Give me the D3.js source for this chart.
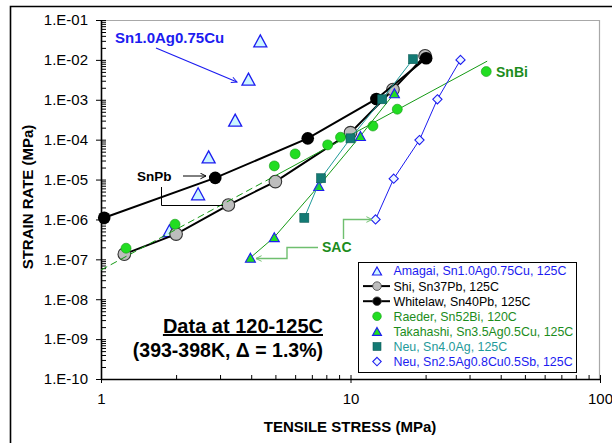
<!DOCTYPE html>
<html>
<head>
<meta charset="utf-8">
<script src="https://cdn.jsdelivr.net/npm/d3@7"></script>
<style>
  html, body { margin: 0; padding: 0; background: #fff; }
  svg { display: block; }
  text { font-family: "Liberation Sans", Arial, Helvetica, sans-serif; }
</style>
</head>
<body>
<svg id="chart" width="612" height="443"></svg>
<script>
// Steady-state creep data, 120-125C: tensile stress (MPa) vs strain rate
const amagaiStress = [4.35, 3.9, 3.45, 2.7, 2.45, 1.88];
const amagaiRate   = [3.0e-2, 3.3e-3, 3.1e-4, 3.7e-5, 4.4e-6, 5.2e-7];

const shiStress = [1.24, 2.0, 3.24, 5.0, 10.0, 14.8, 19.9];
const shiRate   = [1.35e-7, 4.3e-7, 2.3e-6, 8.9e-6, 1.5e-4, 1.8e-3, 1.27e-2];

const whitelawStress = [1.03, 2.87, 6.74, 12.7, 20.1];
const whitelawRate   = [1.1e-6, 1.1e-5, 1.08e-4, 1.05e-3, 1.1e-2];

const raederStress = [1.26, 1.98, 4.95, 6.0, 8.1, 9.12, 12.3, 15.4];
const raederRate   = [1.9e-7, 7.6e-7, 2.2e-5, 4.4e-5, 7.4e-5, 1.15e-4, 2.2e-4, 5.8e-4];

// power-law fit through the Sn52Bi data (dashed where extrapolated)
const snbiFitStress = [1, 5, 35.3];
const snbiFitRate   = [5.4e-8, 1.25e-5, 9.3e-3];
const snbiLabelStress = [35.0];
const snbiLabelRate   = [5.1e-3];

const takahashiStress = [3.97, 4.95, 7.46, 10.96, 15.0];
const takahashiRate   = [1.1e-7, 3.6e-7, 6.9e-6, 1.24e-4, 1.46e-3];

const neuAgStress = [6.53, 7.62, 10.0, 13.4, 17.8];
const neuAgRate   = [1.1e-6, 1.08e-5, 1.08e-4, 1.03e-3, 1.04e-2];

const neuSbStress = [12.6, 14.9, 18.9, 22.3, 27.6];
const neuSbRate   = [1.0e-6, 1.05e-5, 9.8e-5, 1.03e-3, 1.0e-2];

const xTickValues = [1, 10, 100];
const xTickLabels = ["1", "10", "100"];
const yTickValues = [1e-10, 1e-9, 1e-8, 1e-7, 1e-6, 1e-5, 1e-4, 1e-3, 1e-2, 1e-1];
const yTickLabels = ["1.E-10", "1.E-09", "1.E-08", "1.E-07", "1.E-06", "1.E-05", "1.E-04", "1.E-03", "1.E-02", "1.E-01"];

const legendLabels = [
  "Amagai, Sn1.0Ag0.75Cu, 125C",
  "Shi, Sn37Pb, 125C",
  "Whitelaw, Sn40Pb, 125C",
  "Raeder, Sn52Bi, 120C",
  "Takahashi, Sn3.5Ag0.5Cu, 125C",
  "Neu, Sn4.0Ag, 125C",
  "Neu, Sn2.5Ag0.8Cu0.5Sb, 125C"
];

(function draw() {
const BLUE = "#1c1cf0", GREEN_TXT = "#1c8c1c", GREEN = "#22dd22", GREEN_EDGE = "#159a15",
      TEAL = "#137a74", TEAL_LINE = "#1f9a9a", GRAY = "#bdbdbd", POINTER = "#6fbf6f";

const svg = d3.select("#chart");
const W = 612, H = 443;
const pLeft = 101, pRight = 600, pTop = 20, pBottom = 379;

const x = d3.scaleLog().domain([1, 100]).range([pLeft, pRight]);
const y = d3.scaleLog().domain([1e-10, 1e-1]).range([pBottom, pTop]);

const zip = (xs, ys) => xs.map((v, i) => [v, ys[i]]);

// outer frame
svg.append("path")
  .attr("d", `M10.5,${H} V6.5 H${W}`)
  .attr("fill", "none").attr("stroke", "#000").attr("stroke-width", 1.6);

// plot frame (top/right light)
svg.append("path")
  .attr("d", `M${pLeft},${pTop + 0.5} H${pRight - 0.5} V${pBottom}`)
  .attr("fill", "none").attr("stroke", "#a8a8a8").attr("stroke-width", 1.2);

// minor tick values
const xMinor = [];
for (let d = 1; d < 100; d *= 10) for (let k = 2; k <= 9; k++) xMinor.push(d * k);
const yMinor = [];
for (let e = -10; e < -1; e++) for (let k = 2; k <= 9; k++) yMinor.push(k * Math.pow(10, e));

// axes
const gx = svg.append("g").attr("transform", `translate(0,${pBottom})`);
gx.call(d3.axisBottom(x).tickValues(xTickValues).tickSizeInner(4).tickSizeOuter(0)
  .tickPadding(10).tickFormat((d, i) => xTickLabels[i]));
gx.append("g").call(d3.axisBottom(x).tickValues(xTickValues.concat(xMinor)).tickSize(-4).tickFormat(""))
  .select(".domain").remove();

const gy = svg.append("g").attr("transform", `translate(${pLeft},0)`);
gy.call(d3.axisLeft(y).tickValues(yTickValues).tickSizeInner(5).tickSizeOuter(0)
  .tickPadding(8).tickFormat((d, i) => yTickLabels[i]));
gy.append("g").call(d3.axisLeft(y).tickValues(yTickValues.concat(yMinor)).tickSize(-5).tickFormat(""))
  .select(".domain").remove();

svg.selectAll(".domain").attr("stroke", "#000").attr("stroke-width", 1.6);
svg.selectAll(".tick line").attr("stroke", "#000").attr("stroke-width", 1);
svg.selectAll(".tick text").attr("font-size", 15).attr("fill", "#000")
  .attr("font-family", "'Liberation Sans', Arial, sans-serif");
gx.selectAll(".tick text").attr("dy", "0.71em");

// axis titles
svg.append("text").attr("x", 350).attr("y", 432).attr("text-anchor", "middle")
  .attr("font-size", 15).attr("font-weight", "bold").text("TENSILE STRESS (MPa)");
svg.append("text").attr("transform", "translate(32.5,197) rotate(-90)").attr("text-anchor", "middle")
  .attr("font-size", 15).attr("font-weight", "bold").text("STRAIN RATE (MPa)");

// arrow heads
const defs = svg.append("defs");
function arrowMarker(id, color) {
  defs.append("marker").attr("id", id).attr("viewBox", "0 0 10 10")
    .attr("refX", 9).attr("refY", 5).attr("markerWidth", 7).attr("markerHeight", 7)
    .attr("orient", "auto-start-reverse").attr("markerUnits", "userSpaceOnUse")
    .append("path").attr("d", "M1,1 L9,5 L1,9").attr("fill", "none")
    .attr("stroke", color).attr("stroke-width", 1.4);
}
arrowMarker("arBlue", BLUE);
arrowMarker("arBlack", "#000");
arrowMarker("arGreen", POINTER);

// marker shapes
function triPath(w, h) {
  return `M0,${-h / 2}L${w / 2},${h / 2}L${-w / 2},${h / 2}Z`;
}
const diamondPath = r => `M0,${-r}L${r},0L0,${r}L${-r},0Z`;

const line = d3.line().x(d => x(d[0])).y(d => y(d[1]));
const plot = svg.append("g");

// Amagai (markers only)
plot.selectAll(".amagai").data(zip(amagaiStress, amagaiRate)).join("path")
  .attr("transform", d => `translate(${x(d[0])},${y(d[1])})`)
  .attr("d", triPath(13, 12)).attr("fill", "#ccf6ff").attr("stroke", BLUE).attr("stroke-width", 1.3);

// Shi Sn37Pb
const shi = zip(shiStress, shiRate);
plot.append("path").attr("d", line(shi)).attr("fill", "none").attr("stroke", "#000").attr("stroke-width", 2);
plot.selectAll(".shi").data(shi).join("circle")
  .attr("cx", d => x(d[0])).attr("cy", d => y(d[1])).attr("r", 6.3)
  .attr("fill", GRAY).attr("stroke", "#333").attr("stroke-width", 1.1);

// Whitelaw Sn40Pb
const wl = zip(whitelawStress, whitelawRate);
plot.append("path").attr("d", line(wl)).attr("fill", "none").attr("stroke", "#000").attr("stroke-width", 2);
plot.selectAll(".wl").data(wl).join("circle")
  .attr("cx", d => x(d[0])).attr("cy", d => y(d[1])).attr("r", 6.3).attr("fill", "#000");

// Raeder Sn52Bi with fit line
const fit = zip(snbiFitStress, snbiFitRate);
plot.append("path").attr("d", line(fit.slice(0, 2))).attr("fill", "none")
  .attr("stroke", GREEN_EDGE).attr("stroke-width", 1).attr("stroke-dasharray", "7,4");
plot.append("path").attr("d", line(fit.slice(1))).attr("fill", "none")
  .attr("stroke", GREEN_EDGE).attr("stroke-width", 1);
plot.selectAll(".raeder").data(zip(raederStress, raederRate).concat(zip(snbiLabelStress, snbiLabelRate)))
  .join("circle")
  .attr("cx", d => x(d[0])).attr("cy", d => y(d[1])).attr("r", 5)
  .attr("fill", GREEN).attr("stroke", GREEN_EDGE).attr("stroke-width", 0.6);

// Takahashi Sn3.5Ag0.5Cu
const tk = zip(takahashiStress, takahashiRate);
plot.append("path").attr("d", line(tk)).attr("fill", "none").attr("stroke", GREEN_EDGE).attr("stroke-width", 1);
plot.selectAll(".tk").data(tk).join("path")
  .attr("transform", d => `translate(${x(d[0])},${y(d[1])})`)
  .attr("d", triPath(10, 9)).attr("fill", GREEN).attr("stroke", BLUE).attr("stroke-width", 1.1);

// Neu Sn4.0Ag
const na = zip(neuAgStress, neuAgRate);
plot.append("path").attr("d", line(na)).attr("fill", "none").attr("stroke", TEAL_LINE).attr("stroke-width", 1);
plot.selectAll(".na").data(na).join("rect")
  .attr("x", d => x(d[0]) - 4.5).attr("y", d => y(d[1]) - 4.5).attr("width", 9).attr("height", 9)
  .attr("fill", TEAL).attr("stroke", "#0c5c56").attr("stroke-width", 0.6);

// Neu Sn2.5Ag0.8Cu0.5Sb
const ns = zip(neuSbStress, neuSbRate);
plot.append("path").attr("d", line(ns)).attr("fill", "none").attr("stroke", BLUE).attr("stroke-width", 1);
plot.selectAll(".ns").data(ns).join("path")
  .attr("transform", d => `translate(${x(d[0])},${y(d[1])})`)
  .attr("d", diamondPath(4.6)).attr("fill", "#eef8ff").attr("stroke", BLUE).attr("stroke-width", 1.1);

// annotations
svg.append("text").attr("x", 115).attr("y", 43).attr("font-size", 15).attr("font-weight", "bold")
  .attr("fill", BLUE).text("Sn1.0Ag0.75Cu");
svg.append("line").attr("x1", 156).attr("y1", 48).attr("x2", 237).attr("y2", 82)
  .attr("stroke", BLUE).attr("stroke-width", 1.2).attr("marker-end", "url(#arBlue)");

svg.append("text").attr("x", 137).attr("y", 181).attr("font-size", 13.5).attr("font-weight", "bold")
  .text("SnPb");
svg.append("line").attr("x1", 183).attr("y1", 176).attr("x2", 206).attr("y2", 176)
  .attr("stroke", "#000").attr("stroke-width", 1).attr("marker-end", "url(#arBlack)");
svg.append("path").attr("d", "M161.5,187 V205.5 H223").attr("fill", "none")
  .attr("stroke", "#000").attr("stroke-width", 1);

svg.append("text").attr("x", 322).attr("y", 252).attr("font-size", 14).attr("font-weight", "bold")
  .attr("fill", GREEN_TXT).text("SAC");
svg.append("path").attr("d", "M318,247.5 H287 V258.5 H256").attr("fill", "none")
  .attr("stroke", POINTER).attr("stroke-width", 1.4).attr("marker-end", "url(#arGreen)");
svg.append("path").attr("d", "M343.5,239 V219.5 H372").attr("fill", "none")
  .attr("stroke", POINTER).attr("stroke-width", 1.4).attr("marker-end", "url(#arGreen)");

svg.append("text").attr("x", 496).attr("y", 77).attr("font-size", 14).attr("font-weight", "bold")
  .attr("fill", GREEN_TXT).text("SnBi");

const note1 = svg.append("text").attr("x", 323).attr("y", 332.5).attr("text-anchor", "end")
  .attr("font-size", 20).attr("font-weight", "bold").text("Data at 120-125C");
const nb = note1.node().getBBox();
svg.append("line").attr("x1", nb.x).attr("x2", nb.x + nb.width).attr("y1", 335).attr("y2", 335)
  .attr("stroke", "#000").attr("stroke-width", 2);
svg.append("text").attr("x", 323).attr("y", 357).attr("text-anchor", "end")
  .attr("font-size", 19.5).attr("font-weight", "bold").text("(393-398K, \u0394 = 1.3%)");

// legend
const lg = svg.append("g");
lg.append("rect").attr("x", 358.5).attr("y", 262.5).attr("width", 218).attr("height", 110)
  .attr("fill", "#fff").attr("stroke", "#000").attr("stroke-width", 1);
const legendColors = [BLUE, "#000", "#000", GREEN_TXT, GREEN_TXT, TEAL_LINE, BLUE];
const ly = i => 271 + i * 15.1;
const sx = 377;
legendLabels.forEach((t, i) => {
  lg.append("text").attr("x", 393.5).attr("y", ly(i)).attr("dy", "0.36em")
    .attr("font-size", 12.4).attr("fill", legendColors[i]).text(t);
});
lg.append("path").attr("transform", `translate(${sx},${ly(0)})`).attr("d", triPath(9, 8))
  .attr("fill", "#ccf6ff").attr("stroke", BLUE).attr("stroke-width", 1.2);
[1, 2].forEach(i => {
  lg.append("line").attr("x1", 363).attr("x2", 390).attr("y1", ly(i)).attr("y2", ly(i))
    .attr("stroke", "#000").attr("stroke-width", 2);
  lg.append("circle").attr("cx", sx).attr("cy", ly(i)).attr("r", 4.3)
    .attr("fill", i === 1 ? GRAY : "#000").attr("stroke", "#444").attr("stroke-width", 0.8);
});
lg.append("circle").attr("cx", sx).attr("cy", ly(3)).attr("r", 4.3)
  .attr("fill", GREEN).attr("stroke", GREEN_EDGE).attr("stroke-width", 0.6);
lg.append("path").attr("transform", `translate(${sx},${ly(4)})`).attr("d", triPath(9, 8))
  .attr("fill", GREEN).attr("stroke", BLUE).attr("stroke-width", 1.1);
lg.append("rect").attr("x", sx - 4).attr("y", ly(5) - 4).attr("width", 8).attr("height", 8)
  .attr("fill", TEAL).attr("stroke", "#0c5c56").attr("stroke-width", 0.6);
lg.append("path").attr("transform", `translate(${sx},${ly(6)})`).attr("d", diamondPath(4.2))
  .attr("fill", "#eef8ff").attr("stroke", BLUE).attr("stroke-width", 1.1);
})();
</script>
</body>
</html>
